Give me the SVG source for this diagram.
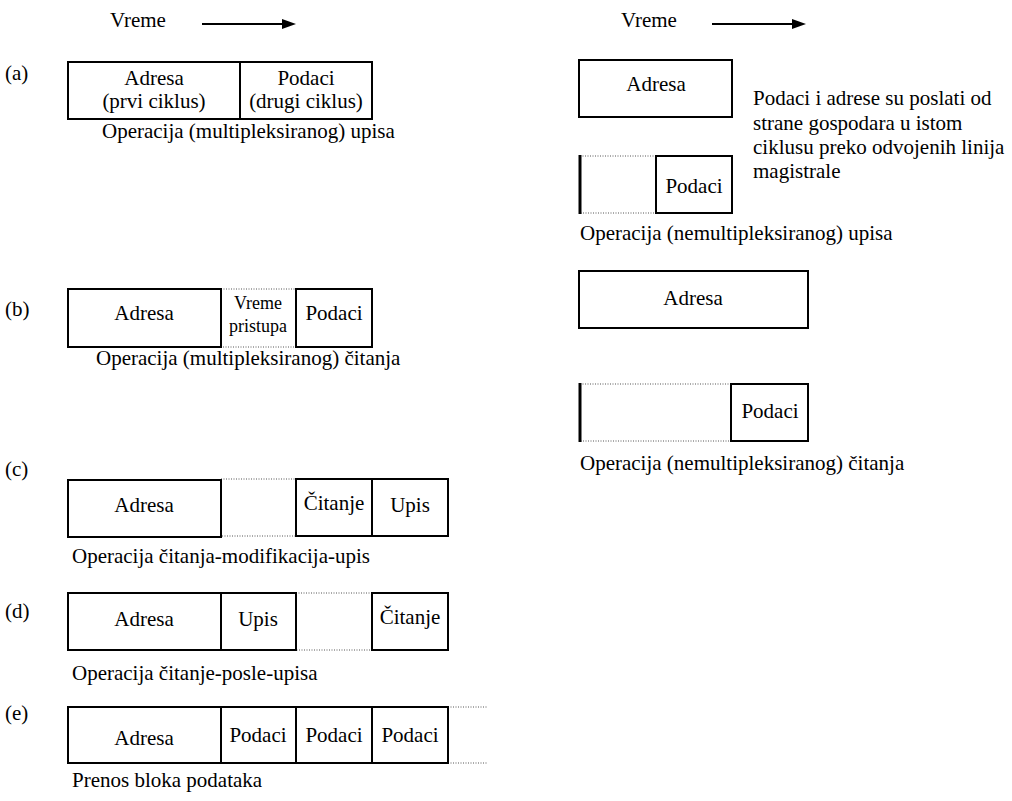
<svg xmlns="http://www.w3.org/2000/svg" width="1012" height="801" viewBox="0 0 1012 801" font-family="'Liberation Serif', 'DejaVu Serif', serif">
  <defs>
    <!-- arrowhead shape for the time axes -->
    <path id="head" d="M-14,-5 L0,0 L-14,5 Z" fill="#000"/>
    <style>
      text { font-family: 'Liberation Serif', 'DejaVu Serif', serif; font-size: 21px; fill: #000; }
      .c { text-anchor: middle; }
      .small { font-size: 18px; }
      .box { fill: #fff; stroke: #000; stroke-width: 2; }
      .dot { fill: none; stroke: #555; stroke-width: 1; stroke-dasharray: 1 1.5; }
      .edge { stroke: #000; stroke-width: 3; }
      .axis { stroke: #000; stroke-width: 2; fill: none; }
    </style>
  </defs>
  <rect width="1012" height="801" fill="#fff"/>

  <!-- time axes -->
  <g id="connectors">
    <text x="110" y="27">Vreme</text>
    <line class="axis" x1="202" y1="24" x2="286" y2="24"/>
    <use href="#head" x="296" y="24"/>
    <text x="621" y="27">Vreme</text>
    <line class="axis" x1="712" y1="24" x2="796" y2="24"/>
    <use href="#head" x="806" y="24"/>
  </g>

  <!-- (a) multiplexed write -->
  <g id="op-a">
    <text x="5" y="80">(a)</text>
    <rect class="box" x="68" y="62" width="304" height="57"/>
    <line x1="240" y1="62" x2="240" y2="119" stroke="#000" stroke-width="2"/>
    <text class="c" x="154" y="85">Adresa</text>
    <text class="c" x="154" y="108">(prvi ciklus)</text>
    <text class="c" x="306" y="85">Podaci</text>
    <text class="c" x="306" y="108">(drugi ciklus)</text>
    <text x="102" y="138">Operacija (multipleksiranog) upisa</text>
  </g>

  <!-- (b) multiplexed read -->
  <g id="op-b">
    <text x="5" y="316">(b)</text>
    <rect class="dot" x="221" y="289" width="75" height="58"/>
    <rect class="box" x="68" y="289" width="153" height="58"/>
    <rect class="box" x="296" y="289" width="76" height="58"/>
    <text class="c" x="144" y="320">Adresa</text>
    <text class="c small" x="258" y="309">Vreme</text>
    <text class="c small" x="258" y="332">pristupa</text>
    <text class="c" x="334" y="320">Podaci</text>
    <text x="96" y="365">Operacija (multipleksiranog) čitanja</text>
  </g>

  <!-- (c) read-modify-write -->
  <g id="op-c">
    <text x="5" y="476">(c)</text>
    <rect class="dot" x="221" y="479" width="75" height="57"/>
    <rect class="box" x="68" y="480" width="153" height="57"/>
    <rect class="box" x="296" y="479" width="76" height="57"/>
    <rect class="box" x="372" y="479" width="76" height="57"/>
    <text class="c" x="144" y="512">Adresa</text>
    <text class="c" x="334" y="510">Čitanje</text>
    <text class="c" x="410" y="512">Upis</text>
    <text x="72" y="563">Operacija čitanja-modifikacija-upis</text>
  </g>

  <!-- (d) read-after-write -->
  <g id="op-d">
    <text x="5" y="618">(d)</text>
    <rect class="dot" x="296" y="593" width="76" height="57"/>
    <rect class="box" x="68" y="593" width="153" height="57"/>
    <rect class="box" x="221" y="593" width="75" height="57"/>
    <rect class="box" x="372" y="593" width="76" height="57"/>
    <text class="c" x="144" y="626">Adresa</text>
    <text class="c" x="258" y="626">Upis</text>
    <text class="c" x="410" y="624">Čitanje</text>
    <text x="72" y="680">Operacija čitanje-posle-upisa</text>
  </g>

  <!-- (e) block transfer -->
  <g id="op-e">
    <text x="5" y="720">(e)</text>
    <line class="dot" x1="448" y1="707" x2="488" y2="707"/>
    <line class="dot" x1="448" y1="763" x2="488" y2="763"/>
    <rect class="box" x="68" y="707" width="153" height="56"/>
    <rect class="box" x="221" y="707" width="75" height="56"/>
    <rect class="box" x="296" y="707" width="76" height="56"/>
    <rect class="box" x="372" y="707" width="76" height="56"/>
    <text class="c" x="144" y="745">Adresa</text>
    <text class="c" x="258" y="742">Podaci</text>
    <text class="c" x="334" y="742">Podaci</text>
    <text class="c" x="410" y="742">Podaci</text>
    <text x="72" y="787">Prenos bloka podataka</text>
  </g>

  <!-- non-multiplexed write -->
  <g id="op-nm-write">
    <rect class="box" x="579" y="60" width="153" height="57"/>
    <text class="c" x="656" y="91">Adresa</text>
    <rect class="dot" x="580" y="156" width="76" height="57"/>
    <line class="edge" x1="580" y1="155" x2="580" y2="214"/>
    <rect class="box" x="656" y="156" width="76" height="57"/>
    <text class="c" x="694" y="193">Podaci</text>
    <text x="753" y="105">Podaci i adrese su poslati od</text>
    <text x="753" y="130">strane gospodara u istom</text>
    <text x="753" y="154">ciklusu preko odvojenih linija</text>
    <text x="753" y="178">magistrale</text>
    <text x="580" y="240">Operacija (nemultipleksiranog) upisa</text>
  </g>

  <!-- non-multiplexed read -->
  <g id="op-nm-read">
    <rect class="box" x="579" y="271" width="229" height="57"/>
    <text class="c" x="693" y="305">Adresa</text>
    <rect class="dot" x="580" y="384" width="151" height="57"/>
    <line class="edge" x1="580" y1="383" x2="580" y2="442"/>
    <rect class="box" x="731" y="384" width="77" height="57"/>
    <text class="c" x="770" y="418">Podaci</text>
    <text x="580" y="470">Operacija (nemultipleksiranog) čitanja</text>
  </g>
</svg>
